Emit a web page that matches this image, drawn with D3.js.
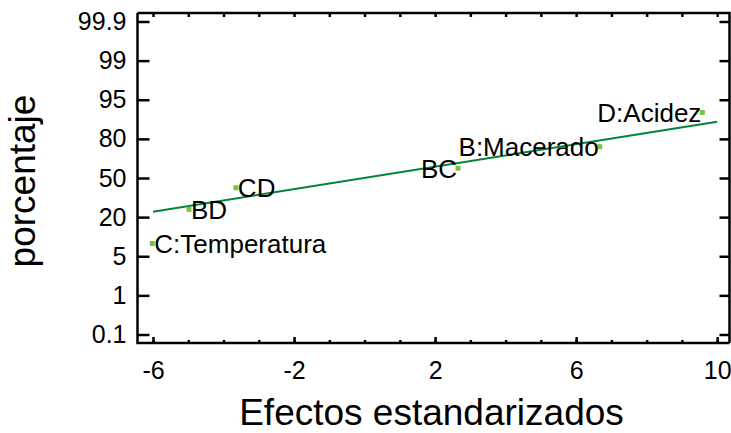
<!DOCTYPE html>
<html>
<head>
<meta charset="utf-8">
<script src="https://cdn.jsdelivr.net/npm/d3@7"></script>
<style>
  body { margin: 0; background: #fff; }
  svg { display: block; font-family: "Liberation Sans", Arial, sans-serif; }
</style>
</head>
<body>
<div id="chart"></div>
<script>
// efectos (normal probability plot)
var effectNames = ['C:Temperatura', 'BD', 'CD', 'BC', 'B:Macerado', 'D:Acidez'];
var effectValues = [-6.02, -4.98, -3.65, 2.65, 6.67, 9.58];
var effectPct = [8.33, 25, 41.67, 58.33, 75, 91.67];   // (i - 0.5) / n
var labelSide = ['right', 'right', 'right', 'left', 'left', 'left'];

// fitted line, two end points
var lineX = [-6, 10];
var linePct = [23.4, 88.4];

var yTickPct = [0.1, 1, 5, 20, 50, 80, 95, 99, 99.9];
var yTickLabels = ['0.1', '1', '5', '20', '50', '80', '95', '99', '99.9'];
var xMajor = [-6, -2, 2, 6, 10];

var width = 731, height = 433;
var margin = {top: 13, right: 1.5, bottom: 90, left: 137.5};
var w = width - margin.left - margin.right;
var h = height - margin.top - margin.bottom;
var pad = 8.5; // space between frame and outer probability ticks

// inverse normal cdf (Abramowitz & Stegun 26.2.23)
function probit(p) {
    var q = p < 0.5 ? p : 1 - p;
    var t = Math.sqrt(-2 * Math.log(q));
    var z = t - (2.515517 + 0.802853 * t + 0.010328 * t * t) /
        (1 + 1.432788 * t + 0.189269 * t * t + 0.001308 * t * t * t);
    return p < 0.5 ? -z : z;
}

var svg = d3.select('#chart').append('svg')
    .attr('width', width)
    .attr('height', height);

var g = svg.append('g')
    .attr('transform', 'translate(' + margin.left + ',' + margin.top + ')');

var x = d3.scaleLinear()
    .domain([-6.44, 10.35])
    .range([0, w]);

// ticks equally spaced, values in between placed by normal score
var tickZ = yTickPct.map(function(p) { return probit(p / 100); });
var y = d3.scaleLinear()
    .domain(tickZ)
    .range(d3.range(yTickPct.length).map(function(i) {
        return (h - pad) - i * (h - 2 * pad) / (yTickPct.length - 1);
    }));
function yp(pct) { return y(probit(pct / 100)); }

var intTicks = d3.range(-6, 11);

// minor x ticks bottom
g.append('g')
    .attr('class', 'axis')
    .attr('transform', 'translate(0,' + h + ')')
    .call(d3.axisBottom(x).tickValues(intTicks).tickSize(-3).tickFormat(''));
// major x ticks bottom
g.append('g')
    .attr('class', 'axis')
    .attr('transform', 'translate(0,' + h + ')')
    .call(d3.axisBottom(x).tickValues(xMajor).tickSize(-6).tickPadding(18)
        .tickFormat(function(d) { return String(d); }));
// top
g.append('g')
    .attr('class', 'axis')
    .call(d3.axisTop(x).tickValues(intTicks).tickSize(-4).tickFormat(''));
// left
g.append('g')
    .attr('class', 'axis')
    .call(d3.axisLeft(y).tickValues(tickZ).tickSize(-12).tickPadding(11)
        .tickFormat(function(d, i) { return yTickLabels[i]; }));
// right
g.append('g')
    .attr('class', 'axis')
    .attr('transform', 'translate(' + w + ',0)')
    .call(d3.axisRight(y).tickValues(tickZ).tickSize(-10).tickFormat(''));

g.selectAll('.axis .domain').remove();
g.selectAll('.axis line').attr('stroke', '#000').attr('stroke-width', 2.5);
g.selectAll('.axis text')
    .attr('fill', '#000')
    .style('font-size', '25px')
    .style('font-family', '"Liberation Sans", Arial, sans-serif');

// frame
g.append('path')
    .attr('d', 'M0,0V' + h + 'H' + w)
    .attr('fill', 'none')
    .attr('stroke', '#000')
    .attr('stroke-width', 2.5);
g.append('path')
    .attr('d', 'M0,0H' + w + 'V' + h)
    .attr('fill', 'none')
    .attr('stroke', '#000')
    .attr('stroke-width', 2.5);

// fitted line
g.append('line')
    .attr('x1', x(lineX[0]))
    .attr('y1', yp(linePct[0]))
    .attr('x2', x(lineX[1]))
    .attr('y2', yp(linePct[1]))
    .attr('stroke', '#00843d')
    .attr('stroke-width', 2);

var pts = effectNames.map(function(n, i) {
    return {name: n, val: effectValues[i], pct: effectPct[i], side: labelSide[i]};
});

g.selectAll('.pt')
    .data(pts)
    .enter().append('rect')
    .attr('class', 'pt')
    .attr('x', function(d) { return x(d.val) - 2.5; })
    .attr('y', function(d) { return yp(d.pct) - 2.5; })
    .attr('width', 5)
    .attr('height', 5)
    .attr('fill', '#7cc43a');

g.selectAll('.lbl')
    .data(pts)
    .enter().append('text')
    .attr('class', 'lbl')
    .attr('x', function(d) { return x(d.val) + (d.side === 'right' ? 2 : -1); })
    .attr('y', function(d) { return yp(d.pct); })
    .attr('dy', '0.36em')
    .attr('text-anchor', function(d) { return d.side === 'right' ? 'start' : 'end'; })
    .style('font-size', '26px')
    .text(function(d) { return d.name; });

// axis titles
svg.append('text')
    .attr('x', margin.left + w / 2 - 2)
    .attr('y', 425)
    .attr('text-anchor', 'middle')
    .style('font-size', '37px')
    .text('Efectos estandarizados');

svg.append('text')
    .attr('transform', 'translate(35,' + (margin.top + h / 2 + 3) + ') rotate(-90)')
    .attr('text-anchor', 'middle')
    .style('font-size', '37px')
    .text('porcentaje');
</script>
</body>
</html>
